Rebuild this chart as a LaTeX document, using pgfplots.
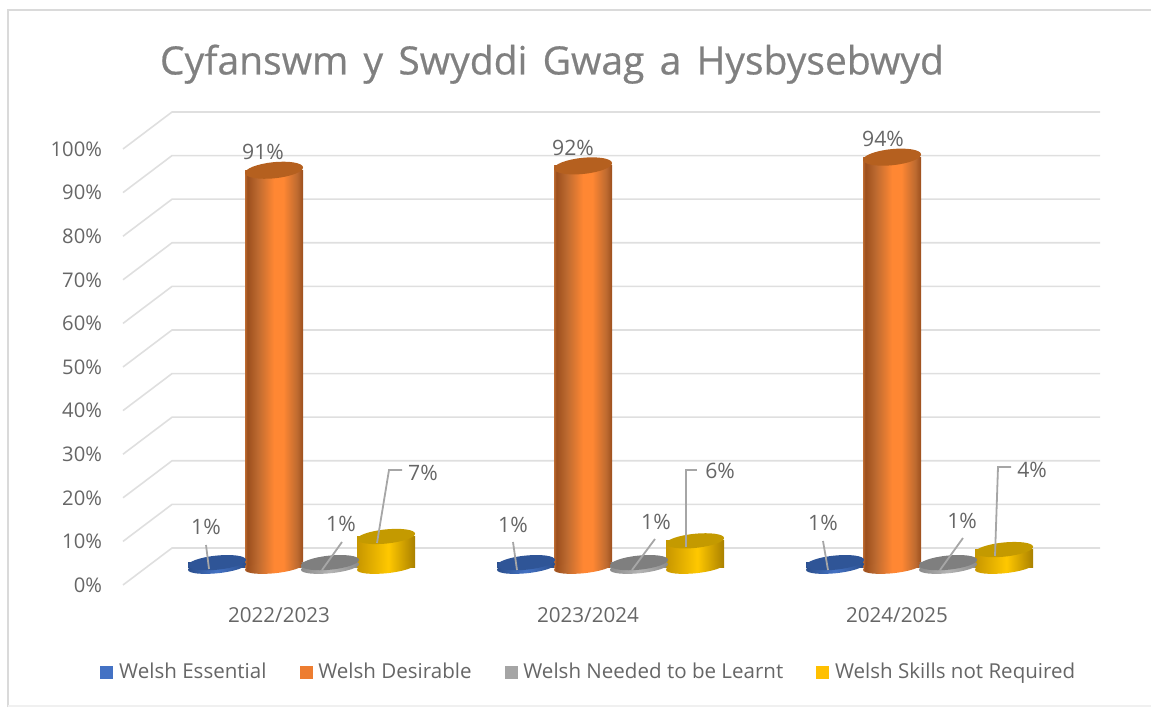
\documentclass[border=0pt]{standalone}
\usepackage{fontspec}
\setmainfont{Open Sans}
\newfontfamily\titlefont[WordSpace=1.5,FakeBold=0.5]{Open Sans}
\usepackage{pgfplots}
\usepackage{pgfplotstable}
\pgfplotsset{compat=1.18}

\definecolor{txt}{HTML}{666666}
\definecolor{gridc}{HTML}{DFDFDF}
\definecolor{leader}{HTML}{A6A6A6}
\definecolor{frame}{HTML}{DADADA}
\definecolor{keyblue}{HTML}{4472C4}
\definecolor{keyorange}{HTML}{ED7D31}
\definecolor{keygray}{HTML}{A5A5A5}
\definecolor{keyyellow}{HTML}{FFC000}

% cylinder sides; only 25bp to 75bp of a shading falls inside the path
\definecolor{bl1}{HTML}{2A4E8C}\definecolor{bl2}{HTML}{4472C4}\definecolor{bl3}{HTML}{2A4E8C}
\definecolor{or1}{HTML}{BD6A30}\definecolor{or2}{HTML}{FF8733}\definecolor{or3}{HTML}{9C4F1D}
\definecolor{gr1}{HTML}{8A8A8A}\definecolor{gr2}{HTML}{B5B5B5}\definecolor{gr3}{HTML}{8A8A8A}
\definecolor{ye1}{HTML}{C79600}\definecolor{ye2}{HTML}{FFC800}\definecolor{ye3}{HTML}{A98000}
\pgfdeclarehorizontalshading{sideblue}{100bp}{color(0bp)=(bl1);color(25bp)=(bl1);color(50bp)=(bl2);color(75bp)=(bl3);color(100bp)=(bl3)}
\pgfdeclarehorizontalshading{sideorange}{100bp}{color(0bp)=(or1);color(25bp)=(or1);color(27bp)=(or3);color(36bp)=(or1);color(50bp)=(or2);color(58bp)=(or2);color(70bp)=(or1);color(75bp)=(or3);color(100bp)=(or3)}
\pgfdeclarehorizontalshading{sidegray}{100bp}{color(0bp)=(gr1);color(25bp)=(gr1);color(50bp)=(gr2);color(75bp)=(gr3);color(100bp)=(gr3)}
\pgfdeclarehorizontalshading{sideyellow}{100bp}{color(0bp)=(ye1);color(25bp)=(ye1);color(52bp)=(ye2);color(75bp)=(ye3);color(100bp)=(ye3)}
\definecolor{topblue}{HTML}{2F5597}
\definecolor{toporange}{HTML}{B5601F}
\definecolor{topgray}{HTML}{7F7F7F}
\definecolor{topyellow}{HTML}{C49A00}

% tilted ends of the cylinders
\newcommand{\cylcap}[1]{\pgfpathellipse{\pgfpointorigin}{\pgfqpoint{14.5pt}{1.5pt}}{\pgfqpoint{-0.5pt}{#1}}}
\pgfdeclareplotmark{capblue}{\cylcap{3.5pt}\pgfusepathqfill}
\pgfdeclareplotmark{capgray}{\cylcap{3.5pt}\pgfusepathqfill}
\pgfdeclareplotmark{capyellow}{\cylcap{3.5pt}\pgfusepathqfill}
\pgfdeclareplotmark{caporange}{\cylcap{4pt}\pgfusepathqfill}
\pgfdeclareplotmark{baseblue}{\cylcap{3.1pt}\pgfshadepath{sideblue}{0}\pgfusepath{discard}}
\pgfdeclareplotmark{baseorange}{\cylcap{3.1pt}\pgfshadepath{sideorange}{0}\pgfusepath{discard}}
\pgfdeclareplotmark{basegray}{\cylcap{3.1pt}\pgfshadepath{sidegray}{0}\pgfusepath{discard}}
\pgfdeclareplotmark{baseyellow}{\cylcap{3.1pt}\pgfshadepath{sideyellow}{0}\pgfusepath{discard}}

\pgfplotstableread{
cat val
0 1
1 1
2 1
}\essential
\pgfplotstableread{
cat val
0 91
1 92
2 94
}\desirable
\pgfplotstableread{
cat val
0 1
1 1
2 1
}\learnt
\pgfplotstableread{
cat val
0 7
1 6
2 4
}\notreq

% one side per plot, so that the shading runs across a single bar
\newcommand{\cylside}[4]{%
  \addplot[forget plot,ybar,bar width=29pt,bar shift=0pt,draw=none,shade,shading=side#3,
    restrict x to domain=#4]
    table[x expr=\thisrow{cat}+#2,y=val] {#1};
}
\newcommand{\cylinder}[3]{%
  \addplot[forget plot,only marks,mark=base#3] table[x expr=\thisrow{cat}+#2,y expr=0] {#1};
  \cylside{#1}{#2}{#3}{-0.5:0.5}
  \cylside{#1}{#2}{#3}{0.5:1.5}
  \cylside{#1}{#2}{#3}{1.5:2.5}
  \addplot[forget plot,only marks,mark=cap#3,mark options={fill=top#3,draw=none}]
    table[x expr=\thisrow{cat}+#2,y=val] {#1};
}
% data label: x, value, offset right and up in image pixels
\newcommand{\dlab}[4]{%
  \node[anchor=center,text=txt,font=\fontsize{10.6}{12}\selectfont,inner sep=0pt,
    xshift=#3*0.5pt,yshift=#4*0.5pt] at (axis cs:#1,#2) {#2\%};
}

\begin{document}
\begin{tikzpicture}
\useasboundingbox (0,0) rectangle (575.5pt,353.5pt);

% chart frame, in image pixels
\begin{scope}[x=0.5pt,y=-0.5pt,shift={(0,353.5pt)}]
  \draw[frame,line width=1.2pt] (8,707) -- (8,10) -- (1151,10);
  \draw[frame!40,line width=0.6pt] (8,706) -- (1151,706);
\end{scope}

% front plane: value labels, category labels, walls
\begin{axis}[
  at={(61.5pt,61pt)},anchor=south west,
  scale only axis,width=488.5pt,height=218pt,
  xmin=123,xmax=1100,ymin=0,ymax=100,clip=false,
  axis line style={draw=none},major tick length=0pt,
  xtick={279,588,897},
  xticklabels={2022/2023,2023/2024,2024/2025},
  ytick={0,10,...,100},
  yticklabel={\pgfmathprintnumber{\tick}\%},
  /pgf/number format/assume math mode=true,
  yticklabel style={xshift=-7pt,text=txt,font=\fontsize{10.1}{12}\selectfont},
  xticklabel style={yshift=-7.5pt,text=txt,font=\fontsize{10.3}{12}\selectfont},
  title={Cyfanswm y Swyddi Gwag a Hysbysebwyd},
  title style={at={(0.439,1.167)},anchor=center,text=gray,font=\titlefont\fontsize{19.5}{22}\selectfont},
]
\pgfplotsinvokeforeach{0,10,...,100}{
  \draw[gridc,line width=0.8pt] (axis cs:123,#1) -- ++(24.5pt,18.5pt) -- ++(464pt,0pt);
}
\end{axis}

% plane of the cylinders
\begin{axis}[
  at={(61.5pt,70pt)},anchor=south west,
  scale only axis,width=488.5pt,height=218pt,
  xmin=-0.5777,xmax=2.584,ymin=0,ymax=100,clip=false,
  hide axis,
  legend columns=4,
  legend cell align=left,
  legend style={at={(-0.0235,-0.241)},anchor=west,draw=none,fill=none,inner sep=0pt,
    text=txt,font=\fontsize{10.27}{12}\selectfont,
    /tikz/every odd column/.style={column sep=1pt},
    /tikz/every even column/.style={column sep=14.5pt}},
]
\cylinder{\essential}{-0.2735}{blue}
\cylinder{\desirable}{-0.089}{orange}
\cylinder{\learnt}{0.0922}{gray}
\cylinder{\notreq}{0.2735}{yellow}

\dlab{-0.2735}{1}{-11}{36}
\dlab{0.7265}{1}{-13}{38}
\dlab{1.7265}{1}{-12}{40}
\dlab{-0.089}{91}{-11}{18}
\dlab{0.911}{92}{-10}{18}
\dlab{1.911}{94}{-9}{18}
\dlab{0.0922}{1}{11}{39}
\dlab{1.0922}{1}{17}{41}
\dlab{2.0922}{1}{14}{42}
\dlab{0.2735}{7}{37}{64}
\dlab{1.2735}{6}{25}{70}
\dlab{2.2735}{4}{28}{80}

\addlegendimage{legend image code/.code={\fill[keyblue] (0pt,-3pt) rectangle (6pt,3pt);}}
\addlegendentry{Welsh Essential}
\addlegendimage{legend image code/.code={\fill[keyorange] (0pt,-3pt) rectangle (6pt,3pt);}}
\addlegendentry{Welsh Desirable}
\addlegendimage{legend image code/.code={\fill[keygray] (0pt,-3pt) rectangle (6pt,3pt);}}
\addlegendentry{Welsh Needed to be Learnt}
\addlegendimage{legend image code/.code={\fill[keyyellow] (0pt,-3pt) rectangle (6pt,3pt);}}
\addlegendentry{Welsh Skills not Required}
\end{axis}

% leader lines to the small labels, in image pixels
\begin{scope}[x=0.5pt,y=-0.5pt,shift={(0,353.5pt)},leader,line width=0.9pt]
  \draw (206,545) -- (209,569);
  \draw (342,542) -- (322,570);
  \draw (377,543) -- (389,470) -- (402,470);
  \draw (513,542) -- (517,570);
  \draw (655,539) -- (632,570);
  \draw (686,547) -- (686,470) -- (697,470);
  \draw (823,541) -- (828,570);
  \draw (963,538) -- (940,570);
  \draw (995,556) -- (998,467) -- (1011,467);
\end{scope}
\end{tikzpicture}
\end{document}
